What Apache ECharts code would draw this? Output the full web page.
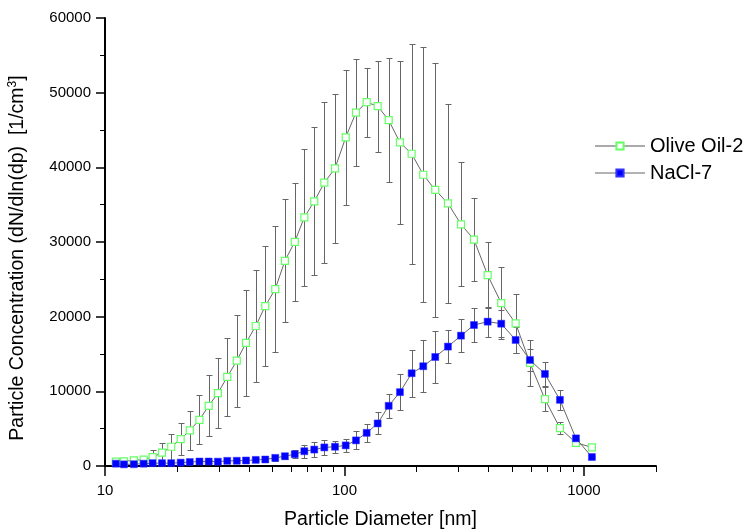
<!DOCTYPE html>
<html><head><meta charset="utf-8">
<script src="https://cdn.jsdelivr.net/npm/echarts@6/dist/echarts.min.js"></script>
<style>html,body{margin:0;padding:0;background:#fff}#c{width:750px;height:530px}</style>
</head><body><div id="c"></div>
<script>
// Particle diameters [nm]
const diameters = [11.1, 12.0, 13.2, 14.5, 15.8, 17.3, 18.9, 20.7, 22.6, 24.8, 27.1, 29.6, 32.4, 35.5, 38.8, 42.6, 46.7, 51.4, 56.4, 62.0, 68.0, 74.8, 82.4, 91.3, 101.2, 111.7, 123.8, 137.6, 153.0, 170.5, 190.8, 213.3, 239.4, 270.5, 306.6, 347.4, 396.3, 451.6, 518.6, 595.2, 687.4, 793.9, 926.1, 1080];
const oliveOil = [580, 620, 760, 850, 1200, 1780, 2580, 3600, 4770, 6190, 8060, 9750, 11930, 14100, 16480, 18750, 21420, 23690, 27480, 30020, 33310, 35450, 37940, 39860, 44000, 47340, 48720, 48190, 46320, 43330, 41820, 39010, 36970, 35180, 32370, 30330, 25560, 21820, 19100, 13800, 8950, 5080, 3110, 2500];
const oliveOilErr = [100, 150, 200, 400, 1000, 1250, 1760, 2180, 2630, 3300, 4100, 4650, 5200, 6150, 7150, 7550, 8080, 8480, 8250, 7920, 9150, 9930, 10750, 9950, 9060, 7150, 4600, 6070, 8330, 10930, 14700, 17100, 16950, 13330, 8280, 5540, 4410, 4790, 3920, 3030, 1600, 800, 300, 200];
const nacl = [310, 220, 240, 310, 380, 380, 380, 450, 530, 600, 600, 580, 690, 700, 740, 820, 870, 1090, 1310, 1580, 1980, 2200, 2490, 2580, 2760, 3430, 4440, 5700, 8060, 9890, 12420, 13360, 14600, 15990, 17460, 18880, 19330, 19060, 16880, 14200, 12330, 8860, 3700, 1200];
const naclErr = [100, 100, 100, 100, 120, 120, 150, 150, 150, 150, 150, 150, 150, 150, 200, 200, 250, 400, 400, 500, 870, 960, 1040, 800, 870, 1200, 1220, 1470, 1580, 2380, 3140, 3450, 3430, 2250, 2170, 2230, 2000, 1800, 1700, 1450, 1600, 1340, 470, 150];
const seriesNames = ['Olive Oil-2', 'NaCl-7'];
const xMajorTicks = [10, 100, 1000];
const xMinorTicks = [20, 30, 40, 50, 60, 70, 80, 90, 200, 300, 400, 500, 600, 700, 800, 900, 2000];
const yMin = 0, yMax = 60000, yStep = 10000;

const FONT = '"Liberation Sans", Arial, sans-serif';
const chart = echarts.init(document.getElementById('c'), null, {renderer: 'canvas'});

function errData(vals, errs) {
  return diameters.map((d, i) => [d, Math.max(vals[i] - errs[i], 0), vals[i] + errs[i]]);
}
function renderErr(params, api) {
  const x = api.value(0);
  const top = api.coord([x, api.value(2)]);
  const bot = api.coord([x, api.value(1)]);
  const cx = Math.round(top[0]) + 0.5;
  const ty = Math.round(top[1]) + 0.5, by = Math.round(bot[1]) + 0.5;
  const st = {stroke: '#666', lineWidth: 1};
  return {type: 'group', children: [
    {type: 'line', shape: {x1: cx, y1: ty, x2: cx, y2: by}, style: st},
    {type: 'line', shape: {x1: cx - 3, y1: ty, x2: cx + 3, y2: ty}, style: st},
    {type: 'line', shape: {x1: cx - 3, y1: by, x2: cx + 3, y2: by}, style: st}
  ]};
}

const option = {
  animation: false,
  backgroundColor: '#fff',
  grid: {left: 105, right: 94, top: 18, bottom: 64, containLabel: false, outerBoundsMode: 'none'},
  legend: {
    orient: 'vertical', left: 589, top: 131, itemWidth: 50, itemHeight: 9, itemGap: 7,
    selectedMode: false,
    textStyle: {fontSize: 20, lineHeight: 20, color: '#000', fontFamily: FONT},
    data: [
      {name: seriesNames[0], lineStyle: {color: '#aaa', width: 2}},
      {name: seriesNames[1], lineStyle: {color: '#666', width: 1}}
    ]
  },
  graphic: [{
    type: 'text', x: 18, y: 258, rotation: Math.PI / 2,
    style: {
      text: 'Particle Concentration (dN/dln(dp)  [1/cm{sup|3}]',
      font: '19.5px ' + FONT, fill: '#000', align: 'center', verticalAlign: 'middle',
      lineHeight: 22,
      rich: {sup: {fontSize: 12, lineHeight: 12, verticalAlign: 'top', fontFamily: FONT, fill: '#000'}}
    }
  }],
  xAxis: [{
    type: 'log', logBase: 10, min: 10, max: 2000,
    axisLine: {lineStyle: {color: '#000', width: 2}},
    axisTick: {length: 10, customValues: xMajorTicks, lineStyle: {color: '#000', width: 1.5}},
    axisLabel: {customValues: xMajorTicks, formatter: v => String(v), fontSize: 15, color: '#000', margin: 17, fontFamily: FONT},
    splitLine: {show: false}, minorTick: {show: false},
    name: 'Particle Diameter [nm]', nameLocation: 'middle', nameGap: 44,
    nameTextStyle: {fontSize: 19.5, color: '#000', fontFamily: FONT}
  }, {
    type: 'log', logBase: 10, min: 10, max: 2000, position: 'bottom', gridIndex: 0,
    axisLine: {show: false},
    axisTick: {length: 6, customValues: xMinorTicks, lineStyle: {color: '#000', width: 1}},
    axisLabel: {show: false}, splitLine: {show: false}
  }],
  yAxis: {
    type: 'value', min: yMin, max: yMax, interval: yStep,
    axisLine: {show: true, lineStyle: {color: '#000', width: 2}},
    axisTick: {show: true, length: 9, lineStyle: {color: '#000', width: 1.5}},
    minorTick: {show: true, splitNumber: 2, length: 5, lineStyle: {color: '#000', width: 1}},
    axisLabel: {formatter: v => String(v), fontSize: 15, color: '#000', margin: 14, fontFamily: FONT},
    splitLine: {show: false}
  },
  series: [
    {type: 'custom', name: 'errOlive', xAxisIndex: 0, renderItem: renderErr, data: errData(oliveOil, oliveOilErr), encode: {x: 0, y: [1, 2]}, z: 1, silent: true},
    {type: 'custom', name: 'errNacl', xAxisIndex: 0, renderItem: renderErr, data: errData(nacl, naclErr), encode: {x: 0, y: [1, 2]}, z: 1, silent: true},
    {type: 'line', name: seriesNames[0], xAxisIndex: 0, data: diameters.map((d, i) => [d, oliveOil[i]]),
      symbol: 'rect', symbolSize: 7, showAllSymbol: true, z: 3,
      lineStyle: {color: '#666', width: 1},
      itemStyle: {color: '#fff', borderColor: '#66ff66', borderWidth: 1.2}},
    {type: 'line', name: seriesNames[1], xAxisIndex: 0, data: diameters.map((d, i) => [d, nacl[i]]),
      symbol: 'rect', symbolSize: 7, showAllSymbol: true, z: 4,
      lineStyle: {color: '#666', width: 1},
      itemStyle: {color: '#0000ff', borderColor: '#3333ff', borderWidth: 0.5}}
  ]
};
chart.setOption(option);
</script></body></html>
